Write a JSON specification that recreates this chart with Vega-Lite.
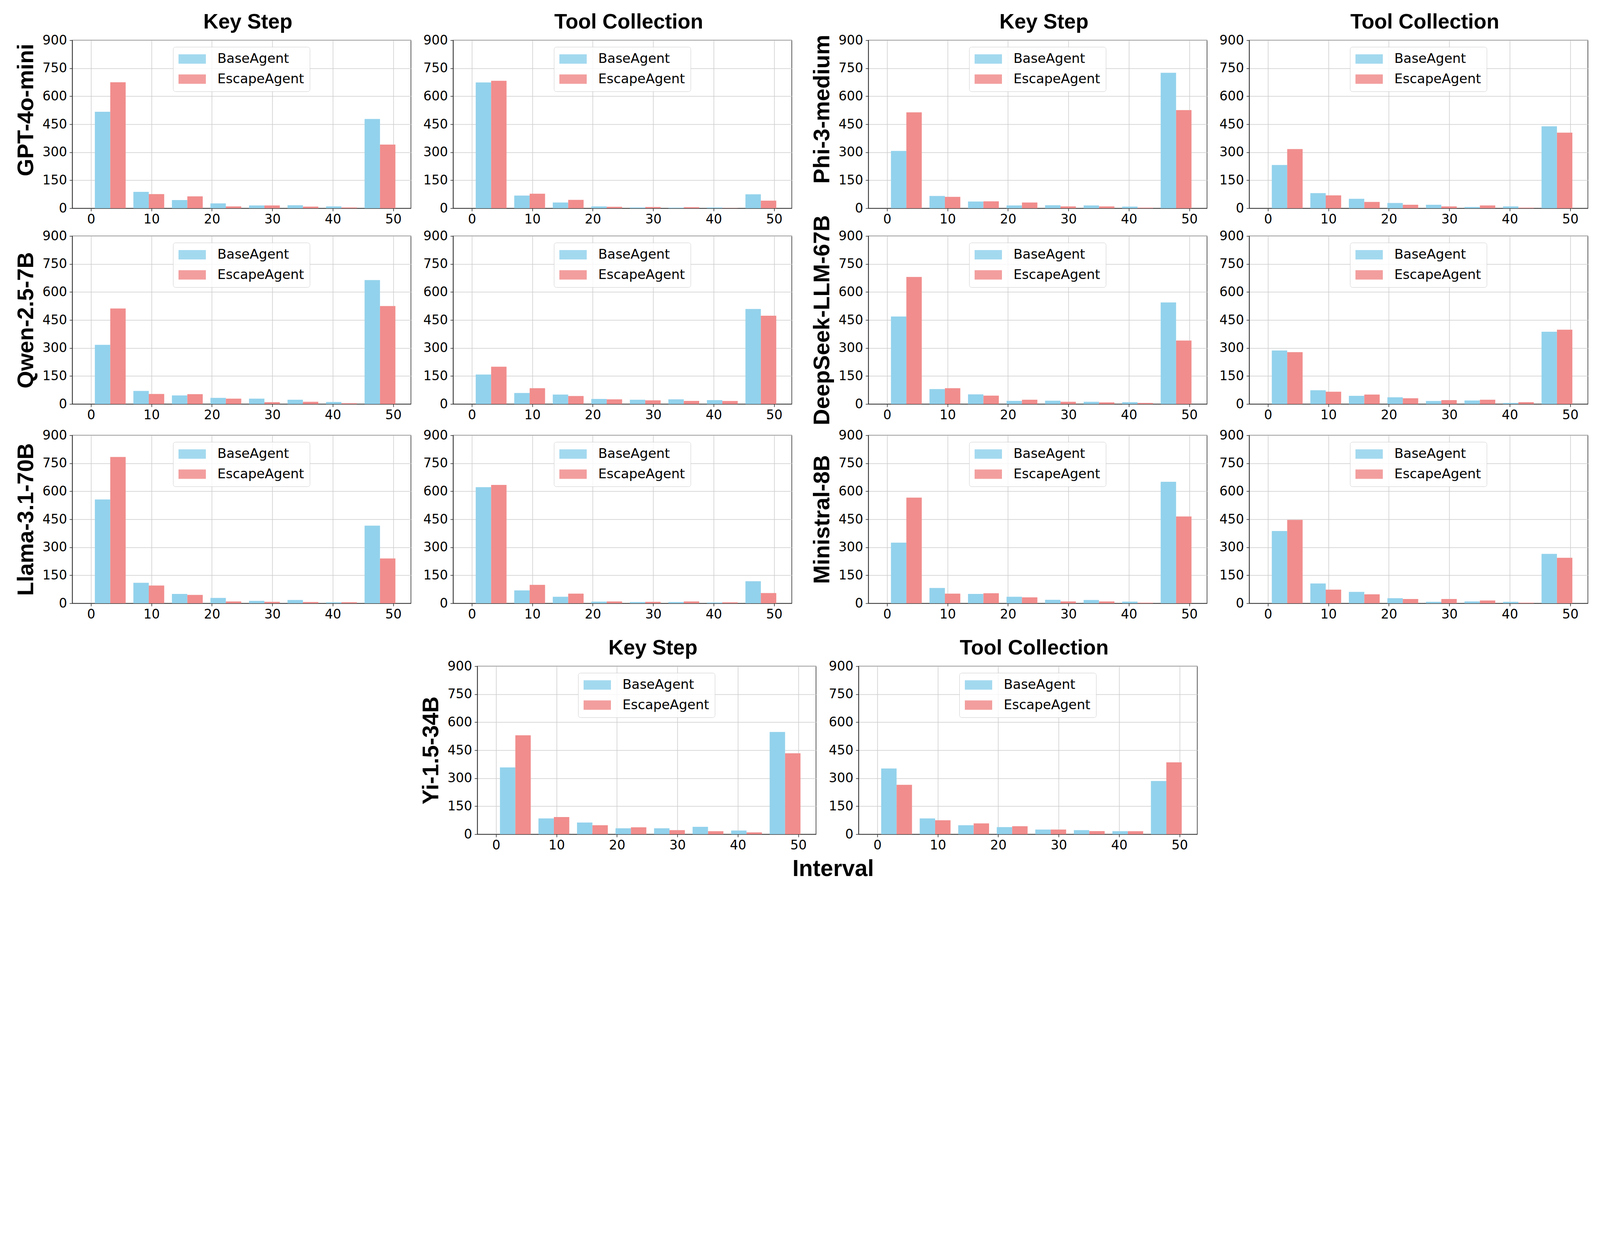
{
  "$schema": "https://vega.github.io/schema/vega-lite/v6.json",
  "background": "white",
  "padding": {"left": 37, "top": 28, "right": 0, "bottom": 0},
  "datasets": {
    "counts": [
      {"model": "GPT-4o-mini", "task": "Key Step", "bin": 0, "BaseAgent": 517, "EscapeAgent": 675},
      {"model": "GPT-4o-mini", "task": "Key Step", "bin": 1, "BaseAgent": 88, "EscapeAgent": 76},
      {"model": "GPT-4o-mini", "task": "Key Step", "bin": 2, "BaseAgent": 44, "EscapeAgent": 64},
      {"model": "GPT-4o-mini", "task": "Key Step", "bin": 3, "BaseAgent": 26, "EscapeAgent": 10},
      {"model": "GPT-4o-mini", "task": "Key Step", "bin": 4, "BaseAgent": 15, "EscapeAgent": 15},
      {"model": "GPT-4o-mini", "task": "Key Step", "bin": 5, "BaseAgent": 16, "EscapeAgent": 9},
      {"model": "GPT-4o-mini", "task": "Key Step", "bin": 6, "BaseAgent": 10, "EscapeAgent": 4},
      {"model": "GPT-4o-mini", "task": "Key Step", "bin": 7, "BaseAgent": 478, "EscapeAgent": 341},
      {"model": "GPT-4o-mini", "task": "Tool Collection", "bin": 0, "BaseAgent": 674, "EscapeAgent": 683},
      {"model": "GPT-4o-mini", "task": "Tool Collection", "bin": 1, "BaseAgent": 68, "EscapeAgent": 78},
      {"model": "GPT-4o-mini", "task": "Tool Collection", "bin": 2, "BaseAgent": 31, "EscapeAgent": 45},
      {"model": "GPT-4o-mini", "task": "Tool Collection", "bin": 3, "BaseAgent": 10, "EscapeAgent": 8},
      {"model": "GPT-4o-mini", "task": "Tool Collection", "bin": 4, "BaseAgent": 4, "EscapeAgent": 7},
      {"model": "GPT-4o-mini", "task": "Tool Collection", "bin": 5, "BaseAgent": 3, "EscapeAgent": 6},
      {"model": "GPT-4o-mini", "task": "Tool Collection", "bin": 6, "BaseAgent": 4, "EscapeAgent": 1},
      {"model": "GPT-4o-mini", "task": "Tool Collection", "bin": 7, "BaseAgent": 75, "EscapeAgent": 41},
      {"model": "Phi-3-medium", "task": "Key Step", "bin": 0, "BaseAgent": 307, "EscapeAgent": 514},
      {"model": "Phi-3-medium", "task": "Key Step", "bin": 1, "BaseAgent": 66, "EscapeAgent": 61},
      {"model": "Phi-3-medium", "task": "Key Step", "bin": 2, "BaseAgent": 36, "EscapeAgent": 37},
      {"model": "Phi-3-medium", "task": "Key Step", "bin": 3, "BaseAgent": 15, "EscapeAgent": 31},
      {"model": "Phi-3-medium", "task": "Key Step", "bin": 4, "BaseAgent": 16, "EscapeAgent": 10},
      {"model": "Phi-3-medium", "task": "Key Step", "bin": 5, "BaseAgent": 15, "EscapeAgent": 10},
      {"model": "Phi-3-medium", "task": "Key Step", "bin": 6, "BaseAgent": 9, "EscapeAgent": 3},
      {"model": "Phi-3-medium", "task": "Key Step", "bin": 7, "BaseAgent": 726, "EscapeAgent": 526},
      {"model": "Phi-3-medium", "task": "Tool Collection", "bin": 0, "BaseAgent": 232, "EscapeAgent": 317},
      {"model": "Phi-3-medium", "task": "Tool Collection", "bin": 1, "BaseAgent": 81, "EscapeAgent": 69},
      {"model": "Phi-3-medium", "task": "Tool Collection", "bin": 2, "BaseAgent": 51, "EscapeAgent": 34},
      {"model": "Phi-3-medium", "task": "Tool Collection", "bin": 3, "BaseAgent": 28, "EscapeAgent": 19},
      {"model": "Phi-3-medium", "task": "Tool Collection", "bin": 4, "BaseAgent": 19, "EscapeAgent": 10},
      {"model": "Phi-3-medium", "task": "Tool Collection", "bin": 5, "BaseAgent": 7, "EscapeAgent": 15},
      {"model": "Phi-3-medium", "task": "Tool Collection", "bin": 6, "BaseAgent": 10, "EscapeAgent": 3},
      {"model": "Phi-3-medium", "task": "Tool Collection", "bin": 7, "BaseAgent": 439, "EscapeAgent": 405},
      {"model": "Qwen-2.5-7B", "task": "Key Step", "bin": 0, "BaseAgent": 317, "EscapeAgent": 512},
      {"model": "Qwen-2.5-7B", "task": "Key Step", "bin": 1, "BaseAgent": 70, "EscapeAgent": 54},
      {"model": "Qwen-2.5-7B", "task": "Key Step", "bin": 2, "BaseAgent": 46, "EscapeAgent": 53},
      {"model": "Qwen-2.5-7B", "task": "Key Step", "bin": 3, "BaseAgent": 33, "EscapeAgent": 29},
      {"model": "Qwen-2.5-7B", "task": "Key Step", "bin": 4, "BaseAgent": 29, "EscapeAgent": 10},
      {"model": "Qwen-2.5-7B", "task": "Key Step", "bin": 5, "BaseAgent": 23, "EscapeAgent": 12},
      {"model": "Qwen-2.5-7B", "task": "Key Step", "bin": 6, "BaseAgent": 11, "EscapeAgent": 4},
      {"model": "Qwen-2.5-7B", "task": "Key Step", "bin": 7, "BaseAgent": 664, "EscapeAgent": 525},
      {"model": "Qwen-2.5-7B", "task": "Tool Collection", "bin": 0, "BaseAgent": 158, "EscapeAgent": 200},
      {"model": "Qwen-2.5-7B", "task": "Tool Collection", "bin": 1, "BaseAgent": 59, "EscapeAgent": 85},
      {"model": "Qwen-2.5-7B", "task": "Tool Collection", "bin": 2, "BaseAgent": 51, "EscapeAgent": 43},
      {"model": "Qwen-2.5-7B", "task": "Tool Collection", "bin": 3, "BaseAgent": 27, "EscapeAgent": 25},
      {"model": "Qwen-2.5-7B", "task": "Tool Collection", "bin": 4, "BaseAgent": 23, "EscapeAgent": 20},
      {"model": "Qwen-2.5-7B", "task": "Tool Collection", "bin": 5, "BaseAgent": 25, "EscapeAgent": 17},
      {"model": "Qwen-2.5-7B", "task": "Tool Collection", "bin": 6, "BaseAgent": 21, "EscapeAgent": 16},
      {"model": "Qwen-2.5-7B", "task": "Tool Collection", "bin": 7, "BaseAgent": 509, "EscapeAgent": 473},
      {"model": "DeepSeek-LLM-67B", "task": "Key Step", "bin": 0, "BaseAgent": 469, "EscapeAgent": 681},
      {"model": "DeepSeek-LLM-67B", "task": "Key Step", "bin": 1, "BaseAgent": 80, "EscapeAgent": 85},
      {"model": "DeepSeek-LLM-67B", "task": "Key Step", "bin": 2, "BaseAgent": 52, "EscapeAgent": 45},
      {"model": "DeepSeek-LLM-67B", "task": "Key Step", "bin": 3, "BaseAgent": 17, "EscapeAgent": 23},
      {"model": "DeepSeek-LLM-67B", "task": "Key Step", "bin": 4, "BaseAgent": 18, "EscapeAgent": 12},
      {"model": "DeepSeek-LLM-67B", "task": "Key Step", "bin": 5, "BaseAgent": 12, "EscapeAgent": 9},
      {"model": "DeepSeek-LLM-67B", "task": "Key Step", "bin": 6, "BaseAgent": 10, "EscapeAgent": 6},
      {"model": "DeepSeek-LLM-67B", "task": "Key Step", "bin": 7, "BaseAgent": 544, "EscapeAgent": 340},
      {"model": "DeepSeek-LLM-67B", "task": "Tool Collection", "bin": 0, "BaseAgent": 287, "EscapeAgent": 278},
      {"model": "DeepSeek-LLM-67B", "task": "Tool Collection", "bin": 1, "BaseAgent": 74, "EscapeAgent": 66},
      {"model": "DeepSeek-LLM-67B", "task": "Tool Collection", "bin": 2, "BaseAgent": 44, "EscapeAgent": 51},
      {"model": "DeepSeek-LLM-67B", "task": "Tool Collection", "bin": 3, "BaseAgent": 36, "EscapeAgent": 31},
      {"model": "DeepSeek-LLM-67B", "task": "Tool Collection", "bin": 4, "BaseAgent": 16, "EscapeAgent": 21},
      {"model": "DeepSeek-LLM-67B", "task": "Tool Collection", "bin": 5, "BaseAgent": 19, "EscapeAgent": 23},
      {"model": "DeepSeek-LLM-67B", "task": "Tool Collection", "bin": 6, "BaseAgent": 6, "EscapeAgent": 10},
      {"model": "DeepSeek-LLM-67B", "task": "Tool Collection", "bin": 7, "BaseAgent": 387, "EscapeAgent": 398},
      {"model": "Llama-3.1-70B", "task": "Key Step", "bin": 0, "BaseAgent": 556, "EscapeAgent": 784},
      {"model": "Llama-3.1-70B", "task": "Key Step", "bin": 1, "BaseAgent": 110, "EscapeAgent": 95},
      {"model": "Llama-3.1-70B", "task": "Key Step", "bin": 2, "BaseAgent": 50, "EscapeAgent": 45},
      {"model": "Llama-3.1-70B", "task": "Key Step", "bin": 3, "BaseAgent": 29, "EscapeAgent": 10},
      {"model": "Llama-3.1-70B", "task": "Key Step", "bin": 4, "BaseAgent": 13, "EscapeAgent": 8},
      {"model": "Llama-3.1-70B", "task": "Key Step", "bin": 5, "BaseAgent": 18, "EscapeAgent": 7},
      {"model": "Llama-3.1-70B", "task": "Key Step", "bin": 6, "BaseAgent": 5, "EscapeAgent": 6},
      {"model": "Llama-3.1-70B", "task": "Key Step", "bin": 7, "BaseAgent": 416, "EscapeAgent": 240},
      {"model": "Llama-3.1-70B", "task": "Tool Collection", "bin": 0, "BaseAgent": 622, "EscapeAgent": 634},
      {"model": "Llama-3.1-70B", "task": "Tool Collection", "bin": 1, "BaseAgent": 69, "EscapeAgent": 99},
      {"model": "Llama-3.1-70B", "task": "Tool Collection", "bin": 2, "BaseAgent": 35, "EscapeAgent": 52},
      {"model": "Llama-3.1-70B", "task": "Tool Collection", "bin": 3, "BaseAgent": 9, "EscapeAgent": 10},
      {"model": "Llama-3.1-70B", "task": "Tool Collection", "bin": 4, "BaseAgent": 7, "EscapeAgent": 8},
      {"model": "Llama-3.1-70B", "task": "Tool Collection", "bin": 5, "BaseAgent": 7, "EscapeAgent": 10},
      {"model": "Llama-3.1-70B", "task": "Tool Collection", "bin": 6, "BaseAgent": 4, "EscapeAgent": 5},
      {"model": "Llama-3.1-70B", "task": "Tool Collection", "bin": 7, "BaseAgent": 118, "EscapeAgent": 55},
      {"model": "Ministral-8B", "task": "Key Step", "bin": 0, "BaseAgent": 325, "EscapeAgent": 566},
      {"model": "Ministral-8B", "task": "Key Step", "bin": 1, "BaseAgent": 82, "EscapeAgent": 52},
      {"model": "Ministral-8B", "task": "Key Step", "bin": 2, "BaseAgent": 50, "EscapeAgent": 54},
      {"model": "Ministral-8B", "task": "Key Step", "bin": 3, "BaseAgent": 35, "EscapeAgent": 32},
      {"model": "Ministral-8B", "task": "Key Step", "bin": 4, "BaseAgent": 19, "EscapeAgent": 10},
      {"model": "Ministral-8B", "task": "Key Step", "bin": 5, "BaseAgent": 18, "EscapeAgent": 10},
      {"model": "Ministral-8B", "task": "Key Step", "bin": 6, "BaseAgent": 9, "EscapeAgent": 3},
      {"model": "Ministral-8B", "task": "Key Step", "bin": 7, "BaseAgent": 651, "EscapeAgent": 465},
      {"model": "Ministral-8B", "task": "Tool Collection", "bin": 0, "BaseAgent": 387, "EscapeAgent": 447},
      {"model": "Ministral-8B", "task": "Tool Collection", "bin": 1, "BaseAgent": 106, "EscapeAgent": 73},
      {"model": "Ministral-8B", "task": "Tool Collection", "bin": 2, "BaseAgent": 61, "EscapeAgent": 48},
      {"model": "Ministral-8B", "task": "Tool Collection", "bin": 3, "BaseAgent": 27, "EscapeAgent": 23},
      {"model": "Ministral-8B", "task": "Tool Collection", "bin": 4, "BaseAgent": 8, "EscapeAgent": 23},
      {"model": "Ministral-8B", "task": "Tool Collection", "bin": 5, "BaseAgent": 10, "EscapeAgent": 15},
      {"model": "Ministral-8B", "task": "Tool Collection", "bin": 6, "BaseAgent": 8, "EscapeAgent": 3},
      {"model": "Ministral-8B", "task": "Tool Collection", "bin": 7, "BaseAgent": 265, "EscapeAgent": 244},
      {"model": "Yi-1.5-34B", "task": "Key Step", "bin": 0, "BaseAgent": 358, "EscapeAgent": 530},
      {"model": "Yi-1.5-34B", "task": "Key Step", "bin": 1, "BaseAgent": 85, "EscapeAgent": 92},
      {"model": "Yi-1.5-34B", "task": "Key Step", "bin": 2, "BaseAgent": 63, "EscapeAgent": 48},
      {"model": "Yi-1.5-34B", "task": "Key Step", "bin": 3, "BaseAgent": 32, "EscapeAgent": 37},
      {"model": "Yi-1.5-34B", "task": "Key Step", "bin": 4, "BaseAgent": 32, "EscapeAgent": 22},
      {"model": "Yi-1.5-34B", "task": "Key Step", "bin": 5, "BaseAgent": 40, "EscapeAgent": 16},
      {"model": "Yi-1.5-34B", "task": "Key Step", "bin": 6, "BaseAgent": 20, "EscapeAgent": 10},
      {"model": "Yi-1.5-34B", "task": "Key Step", "bin": 7, "BaseAgent": 548, "EscapeAgent": 434},
      {"model": "Yi-1.5-34B", "task": "Tool Collection", "bin": 0, "BaseAgent": 352, "EscapeAgent": 265},
      {"model": "Yi-1.5-34B", "task": "Tool Collection", "bin": 1, "BaseAgent": 85, "EscapeAgent": 75},
      {"model": "Yi-1.5-34B", "task": "Tool Collection", "bin": 2, "BaseAgent": 48, "EscapeAgent": 58},
      {"model": "Yi-1.5-34B", "task": "Tool Collection", "bin": 3, "BaseAgent": 38, "EscapeAgent": 43},
      {"model": "Yi-1.5-34B", "task": "Tool Collection", "bin": 4, "BaseAgent": 25, "EscapeAgent": 25},
      {"model": "Yi-1.5-34B", "task": "Tool Collection", "bin": 5, "BaseAgent": 22, "EscapeAgent": 17},
      {"model": "Yi-1.5-34B", "task": "Tool Collection", "bin": 6, "BaseAgent": 16, "EscapeAgent": 16},
      {"model": "Yi-1.5-34B", "task": "Tool Collection", "bin": 7, "BaseAgent": 285, "EscapeAgent": 385}
    ]
  },
  "config": {
    "view": {"stroke": "#262626", "strokeWidth": 1.5},
    "axis": {"labelFont": "DejaVu Sans", "labelFontSize": 33, "labelColor": "#000000", "tickSize": 7.2, "tickWidth": 1.5, "tickColor": "#262626", "gridColor": "#cccccc", "gridWidth": 1.5, "domainColor": "#262626", "domainWidth": 1.5, "titleFont": "Liberation Sans", "titleFontWeight": "bold", "titleFontSize": 57.6, "titleColor": "#000000", "zindex": 1, "labelFlush": false, "labelOverlap": false},
    "legend": {"labelFont": "DejaVu Sans", "labelFontSize": 34, "labelColor": "#000000", "labelLimit": 600, "symbolType": "M-1,-0.34H1V0.34H-1Z", "symbolSize": 4900, "symbolStrokeWidth": 0, "symbolOpacity": 0.85, "clipHeight": 34, "labelOffset": 29.5, "rowPadding": 17.5, "padding": 14, "fillColor": "rgba(255,255,255,0.8)", "strokeColor": "#cccccc", "cornerRadius": 6},
    "title": {"font": "Liberation Sans", "fontWeight": "bold", "fontSize": 53.3, "color": "#000000"},
    "bar": {"stroke": null}
  },
  "resolve": {"scale": {"x": "independent", "y": "independent", "color": "independent"}, "axis": {"x": "independent", "y": "independent"}, "legend": {"color": "independent"}},
  "spacing": 39,
  "vconcat": [
    {
      "spacing": 8,
      "resolve": {"scale": {"x": "independent", "y": "independent", "color": "independent"}, "axis": {"x": "independent", "y": "independent"}, "legend": {"color": "independent"}},
      "vconcat": [
        {
          "spacing": -31,
          "resolve": {"scale": {"x": "independent", "y": "independent", "color": "independent"}, "axis": {"x": "independent", "y": "independent"}, "legend": {"color": "independent"}},
          "vconcat": [
            {
              "spacing": 47,
              "resolve": {"scale": {"x": "independent", "y": "independent", "color": "independent"}, "axis": {"x": "independent", "y": "independent"}, "legend": {"color": "independent"}},
              "hconcat": [
                {
                  "bounds": "flush", "spacing": 108,
                  "resolve": {"scale": {"x": "independent", "y": "independent", "color": "independent"}, "axis": {"x": "independent", "y": "independent"}, "legend": {"color": "independent"}},
                  "hconcat": [
                    {"width": 867, "height": 430,
                     "title": {"text": "Key Step", "anchor": "middle", "frame": "group", "baseline": "alphabetic", "offset": -39, "dx": 16},
                     "layer": [
                      {"data": {"name": "counts"},
                       "transform": [{"filter": {"and": [{"field": "model", "equal": "GPT-4o-mini"}, {"field": "task", "equal": "Key Step"}]}}, {"fold": ["BaseAgent", "EscapeAgent"], "as": ["agent", "count"]}],
                       "mark": {"type": "bar"},
                       "encoding": {
                         "x": {"field": "bin", "type": "ordinal", "scale": {"type": "band", "domain": [0,1,2,3,4,5,6,7], "paddingInner": 0, "paddingOuter": 0.3945, "align": 0.616}, "axis": null},
                         "xOffset": {"field": "agent", "type": "nominal", "scale": {"domain": ["BaseAgent", "EscapeAgent"], "paddingInner": 0, "paddingOuter": 0.25}},
                         "y": {"field": "count", "type": "quantitative", "scale": {"domain": [0, 900], "nice": false}, "axis": {"values": [0,150,300,450,600,750,900], "grid": true, "domain": true, "labelPadding": 6.5, "title": "GPT-4o-mini", "titlePadding": 24, "titleBaseline": "alphabetic", "titleY": 178}},
                         "color": {"field": "agent", "type": "nominal", "scale": {"domain": ["BaseAgent", "EscapeAgent"], "range": ["#93d2ec", "#f18d8d"]}, "legend": {"orient": "none", "legendX": 258, "legendY": 17, "title": null}}
                       }},
                      {"data": {"values": [{}]}, "mark": {"type": "rule", "opacity": 0},
                       "encoding": {"x": {"datum": 0, "type": "quantitative", "scale": {"domain": [-3.1, 52.93], "nice": false, "zero": false}, "axis": {"values": [0,10,20,30,40,50], "grid": true, "domain": true, "title": null, "labelPadding": 5.2, "format": "d"}}}}
                     ],
                     "resolve": {"scale": {"x": "independent"}, "axis": {"x": "independent"}}},
                    {"width": 867, "height": 430,
                     "title": {"text": "Tool Collection", "anchor": "middle", "frame": "group", "baseline": "alphabetic", "offset": -39, "dx": 16},
                     "layer": [
                      {"data": {"name": "counts"},
                       "transform": [{"filter": {"and": [{"field": "model", "equal": "GPT-4o-mini"}, {"field": "task", "equal": "Tool Collection"}]}}, {"fold": ["BaseAgent", "EscapeAgent"], "as": ["agent", "count"]}],
                       "mark": {"type": "bar"},
                       "encoding": {
                         "x": {"field": "bin", "type": "ordinal", "scale": {"type": "band", "domain": [0,1,2,3,4,5,6,7], "paddingInner": 0, "paddingOuter": 0.3945, "align": 0.616}, "axis": null},
                         "xOffset": {"field": "agent", "type": "nominal", "scale": {"domain": ["BaseAgent", "EscapeAgent"], "paddingInner": 0, "paddingOuter": 0.25}},
                         "y": {"field": "count", "type": "quantitative", "scale": {"domain": [0, 900], "nice": false}, "axis": {"values": [0,150,300,450,600,750,900], "grid": true, "domain": true, "labelPadding": 6.5, "title": null}},
                         "color": {"field": "agent", "type": "nominal", "scale": {"domain": ["BaseAgent", "EscapeAgent"], "range": ["#93d2ec", "#f18d8d"]}, "legend": {"orient": "none", "legendX": 258, "legendY": 17, "title": null}}
                       }},
                      {"data": {"values": [{}]}, "mark": {"type": "rule", "opacity": 0},
                       "encoding": {"x": {"datum": 0, "type": "quantitative", "scale": {"domain": [-3.1, 52.93], "nice": false, "zero": false}, "axis": {"values": [0,10,20,30,40,50], "grid": true, "domain": true, "title": null, "labelPadding": 5.2, "format": "d"}}}}
                     ],
                     "resolve": {"scale": {"x": "independent"}, "axis": {"x": "independent"}}}
                  ]
                },
                {
                  "bounds": "flush", "spacing": 108,
                  "resolve": {"scale": {"x": "independent", "y": "independent", "color": "independent"}, "axis": {"x": "independent", "y": "independent"}, "legend": {"color": "independent"}},
                  "hconcat": [
                    {"width": 867, "height": 430,
                     "title": {"text": "Key Step", "anchor": "middle", "frame": "group", "baseline": "alphabetic", "offset": -39, "dx": 16},
                     "layer": [
                      {"data": {"name": "counts"},
                       "transform": [{"filter": {"and": [{"field": "model", "equal": "Phi-3-medium"}, {"field": "task", "equal": "Key Step"}]}}, {"fold": ["BaseAgent", "EscapeAgent"], "as": ["agent", "count"]}],
                       "mark": {"type": "bar"},
                       "encoding": {
                         "x": {"field": "bin", "type": "ordinal", "scale": {"type": "band", "domain": [0,1,2,3,4,5,6,7], "paddingInner": 0, "paddingOuter": 0.3945, "align": 0.616}, "axis": null},
                         "xOffset": {"field": "agent", "type": "nominal", "scale": {"domain": ["BaseAgent", "EscapeAgent"], "paddingInner": 0, "paddingOuter": 0.25}},
                         "y": {"field": "count", "type": "quantitative", "scale": {"domain": [0, 900], "nice": false}, "axis": {"values": [0,150,300,450,600,750,900], "grid": true, "domain": true, "labelPadding": 6.5, "title": "Phi-3-medium", "titlePadding": 24, "titleBaseline": "alphabetic", "titleY": 176}},
                         "color": {"field": "agent", "type": "nominal", "scale": {"domain": ["BaseAgent", "EscapeAgent"], "range": ["#93d2ec", "#f18d8d"]}, "legend": {"orient": "none", "legendX": 258, "legendY": 17, "title": null}}
                       }},
                      {"data": {"values": [{}]}, "mark": {"type": "rule", "opacity": 0},
                       "encoding": {"x": {"datum": 0, "type": "quantitative", "scale": {"domain": [-3.1, 52.93], "nice": false, "zero": false}, "axis": {"values": [0,10,20,30,40,50], "grid": true, "domain": true, "title": null, "labelPadding": 5.2, "format": "d"}}}}
                     ],
                     "resolve": {"scale": {"x": "independent"}, "axis": {"x": "independent"}}},
                    {"width": 867, "height": 430,
                     "title": {"text": "Tool Collection", "anchor": "middle", "frame": "group", "baseline": "alphabetic", "offset": -39, "dx": 16},
                     "layer": [
                      {"data": {"name": "counts"},
                       "transform": [{"filter": {"and": [{"field": "model", "equal": "Phi-3-medium"}, {"field": "task", "equal": "Tool Collection"}]}}, {"fold": ["BaseAgent", "EscapeAgent"], "as": ["agent", "count"]}],
                       "mark": {"type": "bar"},
                       "encoding": {
                         "x": {"field": "bin", "type": "ordinal", "scale": {"type": "band", "domain": [0,1,2,3,4,5,6,7], "paddingInner": 0, "paddingOuter": 0.3945, "align": 0.616}, "axis": null},
                         "xOffset": {"field": "agent", "type": "nominal", "scale": {"domain": ["BaseAgent", "EscapeAgent"], "paddingInner": 0, "paddingOuter": 0.25}},
                         "y": {"field": "count", "type": "quantitative", "scale": {"domain": [0, 900], "nice": false}, "axis": {"values": [0,150,300,450,600,750,900], "grid": true, "domain": true, "labelPadding": 6.5, "title": null}},
                         "color": {"field": "agent", "type": "nominal", "scale": {"domain": ["BaseAgent", "EscapeAgent"], "range": ["#93d2ec", "#f18d8d"]}, "legend": {"orient": "none", "legendX": 258, "legendY": 17, "title": null}}
                       }},
                      {"data": {"values": [{}]}, "mark": {"type": "rule", "opacity": 0},
                       "encoding": {"x": {"datum": 0, "type": "quantitative", "scale": {"domain": [-3.1, 52.93], "nice": false, "zero": false}, "axis": {"values": [0,10,20,30,40,50], "grid": true, "domain": true, "title": null, "labelPadding": 5.2, "format": "d"}}}}
                     ],
                     "resolve": {"scale": {"x": "independent"}, "axis": {"x": "independent"}}}
                  ]
                }
              ]
            },
            {
              "spacing": 47,
              "resolve": {"scale": {"x": "independent", "y": "independent", "color": "independent"}, "axis": {"x": "independent", "y": "independent"}, "legend": {"color": "independent"}},
              "hconcat": [
                {
                  "bounds": "flush", "spacing": 108,
                  "resolve": {"scale": {"x": "independent", "y": "independent", "color": "independent"}, "axis": {"x": "independent", "y": "independent"}, "legend": {"color": "independent"}},
                  "hconcat": [
                    {"width": 867, "height": 430,
                     "layer": [
                      {"data": {"name": "counts"},
                       "transform": [{"filter": {"and": [{"field": "model", "equal": "Qwen-2.5-7B"}, {"field": "task", "equal": "Key Step"}]}}, {"fold": ["BaseAgent", "EscapeAgent"], "as": ["agent", "count"]}],
                       "mark": {"type": "bar"},
                       "encoding": {
                         "x": {"field": "bin", "type": "ordinal", "scale": {"type": "band", "domain": [0,1,2,3,4,5,6,7], "paddingInner": 0, "paddingOuter": 0.3945, "align": 0.616}, "axis": null},
                         "xOffset": {"field": "agent", "type": "nominal", "scale": {"domain": ["BaseAgent", "EscapeAgent"], "paddingInner": 0, "paddingOuter": 0.25}},
                         "y": {"field": "count", "type": "quantitative", "scale": {"domain": [0, 900], "nice": false}, "axis": {"values": [0,150,300,450,600,750,900], "grid": true, "domain": true, "labelPadding": 6.5, "title": "Qwen-2.5-7B", "titlePadding": 24, "titleBaseline": "alphabetic"}},
                         "color": {"field": "agent", "type": "nominal", "scale": {"domain": ["BaseAgent", "EscapeAgent"], "range": ["#93d2ec", "#f18d8d"]}, "legend": {"orient": "none", "legendX": 258, "legendY": 17, "title": null}}
                       }},
                      {"data": {"values": [{}]}, "mark": {"type": "rule", "opacity": 0},
                       "encoding": {"x": {"datum": 0, "type": "quantitative", "scale": {"domain": [-3.1, 52.93], "nice": false, "zero": false}, "axis": {"values": [0,10,20,30,40,50], "grid": true, "domain": true, "title": null, "labelPadding": 5.2, "format": "d"}}}}
                     ],
                     "resolve": {"scale": {"x": "independent"}, "axis": {"x": "independent"}}},
                    {"width": 867, "height": 430,
                     "layer": [
                      {"data": {"name": "counts"},
                       "transform": [{"filter": {"and": [{"field": "model", "equal": "Qwen-2.5-7B"}, {"field": "task", "equal": "Tool Collection"}]}}, {"fold": ["BaseAgent", "EscapeAgent"], "as": ["agent", "count"]}],
                       "mark": {"type": "bar"},
                       "encoding": {
                         "x": {"field": "bin", "type": "ordinal", "scale": {"type": "band", "domain": [0,1,2,3,4,5,6,7], "paddingInner": 0, "paddingOuter": 0.3945, "align": 0.616}, "axis": null},
                         "xOffset": {"field": "agent", "type": "nominal", "scale": {"domain": ["BaseAgent", "EscapeAgent"], "paddingInner": 0, "paddingOuter": 0.25}},
                         "y": {"field": "count", "type": "quantitative", "scale": {"domain": [0, 900], "nice": false}, "axis": {"values": [0,150,300,450,600,750,900], "grid": true, "domain": true, "labelPadding": 6.5, "title": null}},
                         "color": {"field": "agent", "type": "nominal", "scale": {"domain": ["BaseAgent", "EscapeAgent"], "range": ["#93d2ec", "#f18d8d"]}, "legend": {"orient": "none", "legendX": 258, "legendY": 17, "title": null}}
                       }},
                      {"data": {"values": [{}]}, "mark": {"type": "rule", "opacity": 0},
                       "encoding": {"x": {"datum": 0, "type": "quantitative", "scale": {"domain": [-3.1, 52.93], "nice": false, "zero": false}, "axis": {"values": [0,10,20,30,40,50], "grid": true, "domain": true, "title": null, "labelPadding": 5.2, "format": "d"}}}}
                     ],
                     "resolve": {"scale": {"x": "independent"}, "axis": {"x": "independent"}}}
                  ]
                },
                {
                  "bounds": "flush", "spacing": 108,
                  "resolve": {"scale": {"x": "independent", "y": "independent", "color": "independent"}, "axis": {"x": "independent", "y": "independent"}, "legend": {"color": "independent"}},
                  "hconcat": [
                    {"width": 867, "height": 430,
                     "layer": [
                      {"data": {"name": "counts"},
                       "transform": [{"filter": {"and": [{"field": "model", "equal": "DeepSeek-LLM-67B"}, {"field": "task", "equal": "Key Step"}]}}, {"fold": ["BaseAgent", "EscapeAgent"], "as": ["agent", "count"]}],
                       "mark": {"type": "bar"},
                       "encoding": {
                         "x": {"field": "bin", "type": "ordinal", "scale": {"type": "band", "domain": [0,1,2,3,4,5,6,7], "paddingInner": 0, "paddingOuter": 0.3945, "align": 0.616}, "axis": null},
                         "xOffset": {"field": "agent", "type": "nominal", "scale": {"domain": ["BaseAgent", "EscapeAgent"], "paddingInner": 0, "paddingOuter": 0.25}},
                         "y": {"field": "count", "type": "quantitative", "scale": {"domain": [0, 900], "nice": false}, "axis": {"values": [0,150,300,450,600,750,900], "grid": true, "domain": true, "labelPadding": 6.5, "title": "DeepSeek-LLM-67B", "titlePadding": 24, "titleBaseline": "alphabetic"}},
                         "color": {"field": "agent", "type": "nominal", "scale": {"domain": ["BaseAgent", "EscapeAgent"], "range": ["#93d2ec", "#f18d8d"]}, "legend": {"orient": "none", "legendX": 258, "legendY": 17, "title": null}}
                       }},
                      {"data": {"values": [{}]}, "mark": {"type": "rule", "opacity": 0},
                       "encoding": {"x": {"datum": 0, "type": "quantitative", "scale": {"domain": [-3.1, 52.93], "nice": false, "zero": false}, "axis": {"values": [0,10,20,30,40,50], "grid": true, "domain": true, "title": null, "labelPadding": 5.2, "format": "d"}}}}
                     ],
                     "resolve": {"scale": {"x": "independent"}, "axis": {"x": "independent"}}},
                    {"width": 867, "height": 430,
                     "layer": [
                      {"data": {"name": "counts"},
                       "transform": [{"filter": {"and": [{"field": "model", "equal": "DeepSeek-LLM-67B"}, {"field": "task", "equal": "Tool Collection"}]}}, {"fold": ["BaseAgent", "EscapeAgent"], "as": ["agent", "count"]}],
                       "mark": {"type": "bar"},
                       "encoding": {
                         "x": {"field": "bin", "type": "ordinal", "scale": {"type": "band", "domain": [0,1,2,3,4,5,6,7], "paddingInner": 0, "paddingOuter": 0.3945, "align": 0.616}, "axis": null},
                         "xOffset": {"field": "agent", "type": "nominal", "scale": {"domain": ["BaseAgent", "EscapeAgent"], "paddingInner": 0, "paddingOuter": 0.25}},
                         "y": {"field": "count", "type": "quantitative", "scale": {"domain": [0, 900], "nice": false}, "axis": {"values": [0,150,300,450,600,750,900], "grid": true, "domain": true, "labelPadding": 6.5, "title": null}},
                         "color": {"field": "agent", "type": "nominal", "scale": {"domain": ["BaseAgent", "EscapeAgent"], "range": ["#93d2ec", "#f18d8d"]}, "legend": {"orient": "none", "legendX": 258, "legendY": 17, "title": null}}
                       }},
                      {"data": {"values": [{}]}, "mark": {"type": "rule", "opacity": 0},
                       "encoding": {"x": {"datum": 0, "type": "quantitative", "scale": {"domain": [-3.1, 52.93], "nice": false, "zero": false}, "axis": {"values": [0,10,20,30,40,50], "grid": true, "domain": true, "title": null, "labelPadding": 5.2, "format": "d"}}}}
                     ],
                     "resolve": {"scale": {"x": "independent"}, "axis": {"x": "independent"}}}
                  ]
                }
              ]
            }
          ]
        },
        {
          "spacing": 47,
          "resolve": {"scale": {"x": "independent", "y": "independent", "color": "independent"}, "axis": {"x": "independent", "y": "independent"}, "legend": {"color": "independent"}},
          "hconcat": [
            {
              "bounds": "flush", "spacing": 108,
              "resolve": {"scale": {"x": "independent", "y": "independent", "color": "independent"}, "axis": {"x": "independent", "y": "independent"}, "legend": {"color": "independent"}},
              "hconcat": [
                {"width": 867, "height": 430,
                 "layer": [
                  {"data": {"name": "counts"},
                   "transform": [{"filter": {"and": [{"field": "model", "equal": "Llama-3.1-70B"}, {"field": "task", "equal": "Key Step"}]}}, {"fold": ["BaseAgent", "EscapeAgent"], "as": ["agent", "count"]}],
                   "mark": {"type": "bar"},
                   "encoding": {
                     "x": {"field": "bin", "type": "ordinal", "scale": {"type": "band", "domain": [0,1,2,3,4,5,6,7], "paddingInner": 0, "paddingOuter": 0.3945, "align": 0.616}, "axis": null},
                     "xOffset": {"field": "agent", "type": "nominal", "scale": {"domain": ["BaseAgent", "EscapeAgent"], "paddingInner": 0, "paddingOuter": 0.25}},
                     "y": {"field": "count", "type": "quantitative", "scale": {"domain": [0, 900], "nice": false}, "axis": {"values": [0,150,300,450,600,750,900], "grid": true, "domain": true, "labelPadding": 6.5, "title": "Llama-3.1-70B", "titlePadding": 24, "titleBaseline": "alphabetic"}},
                     "color": {"field": "agent", "type": "nominal", "scale": {"domain": ["BaseAgent", "EscapeAgent"], "range": ["#93d2ec", "#f18d8d"]}, "legend": {"orient": "none", "legendX": 258, "legendY": 17, "title": null}}
                   }},
                  {"data": {"values": [{}]}, "mark": {"type": "rule", "opacity": 0},
                   "encoding": {"x": {"datum": 0, "type": "quantitative", "scale": {"domain": [-3.1, 52.93], "nice": false, "zero": false}, "axis": {"values": [0,10,20,30,40,50], "grid": true, "domain": true, "title": null, "labelPadding": 5.2, "format": "d"}}}}
                 ],
                 "resolve": {"scale": {"x": "independent"}, "axis": {"x": "independent"}}},
                {"width": 867, "height": 430,
                 "layer": [
                  {"data": {"name": "counts"},
                   "transform": [{"filter": {"and": [{"field": "model", "equal": "Llama-3.1-70B"}, {"field": "task", "equal": "Tool Collection"}]}}, {"fold": ["BaseAgent", "EscapeAgent"], "as": ["agent", "count"]}],
                   "mark": {"type": "bar"},
                   "encoding": {
                     "x": {"field": "bin", "type": "ordinal", "scale": {"type": "band", "domain": [0,1,2,3,4,5,6,7], "paddingInner": 0, "paddingOuter": 0.3945, "align": 0.616}, "axis": null},
                     "xOffset": {"field": "agent", "type": "nominal", "scale": {"domain": ["BaseAgent", "EscapeAgent"], "paddingInner": 0, "paddingOuter": 0.25}},
                     "y": {"field": "count", "type": "quantitative", "scale": {"domain": [0, 900], "nice": false}, "axis": {"values": [0,150,300,450,600,750,900], "grid": true, "domain": true, "labelPadding": 6.5, "title": null}},
                     "color": {"field": "agent", "type": "nominal", "scale": {"domain": ["BaseAgent", "EscapeAgent"], "range": ["#93d2ec", "#f18d8d"]}, "legend": {"orient": "none", "legendX": 258, "legendY": 17, "title": null}}
                   }},
                  {"data": {"values": [{}]}, "mark": {"type": "rule", "opacity": 0},
                   "encoding": {"x": {"datum": 0, "type": "quantitative", "scale": {"domain": [-3.1, 52.93], "nice": false, "zero": false}, "axis": {"values": [0,10,20,30,40,50], "grid": true, "domain": true, "title": null, "labelPadding": 5.2, "format": "d"}}}}
                 ],
                 "resolve": {"scale": {"x": "independent"}, "axis": {"x": "independent"}}}
              ]
            },
            {
              "bounds": "flush", "spacing": 108,
              "resolve": {"scale": {"x": "independent", "y": "independent", "color": "independent"}, "axis": {"x": "independent", "y": "independent"}, "legend": {"color": "independent"}},
              "hconcat": [
                {"width": 867, "height": 430,
                 "layer": [
                  {"data": {"name": "counts"},
                   "transform": [{"filter": {"and": [{"field": "model", "equal": "Ministral-8B"}, {"field": "task", "equal": "Key Step"}]}}, {"fold": ["BaseAgent", "EscapeAgent"], "as": ["agent", "count"]}],
                   "mark": {"type": "bar"},
                   "encoding": {
                     "x": {"field": "bin", "type": "ordinal", "scale": {"type": "band", "domain": [0,1,2,3,4,5,6,7], "paddingInner": 0, "paddingOuter": 0.3945, "align": 0.616}, "axis": null},
                     "xOffset": {"field": "agent", "type": "nominal", "scale": {"domain": ["BaseAgent", "EscapeAgent"], "paddingInner": 0, "paddingOuter": 0.25}},
                     "y": {"field": "count", "type": "quantitative", "scale": {"domain": [0, 900], "nice": false}, "axis": {"values": [0,150,300,450,600,750,900], "grid": true, "domain": true, "labelPadding": 6.5, "title": "Ministral-8B", "titlePadding": 24, "titleBaseline": "alphabetic"}},
                     "color": {"field": "agent", "type": "nominal", "scale": {"domain": ["BaseAgent", "EscapeAgent"], "range": ["#93d2ec", "#f18d8d"]}, "legend": {"orient": "none", "legendX": 258, "legendY": 17, "title": null}}
                   }},
                  {"data": {"values": [{}]}, "mark": {"type": "rule", "opacity": 0},
                   "encoding": {"x": {"datum": 0, "type": "quantitative", "scale": {"domain": [-3.1, 52.93], "nice": false, "zero": false}, "axis": {"values": [0,10,20,30,40,50], "grid": true, "domain": true, "title": null, "labelPadding": 5.2, "format": "d"}}}}
                 ],
                 "resolve": {"scale": {"x": "independent"}, "axis": {"x": "independent"}}},
                {"width": 867, "height": 430,
                 "layer": [
                  {"data": {"name": "counts"},
                   "transform": [{"filter": {"and": [{"field": "model", "equal": "Ministral-8B"}, {"field": "task", "equal": "Tool Collection"}]}}, {"fold": ["BaseAgent", "EscapeAgent"], "as": ["agent", "count"]}],
                   "mark": {"type": "bar"},
                   "encoding": {
                     "x": {"field": "bin", "type": "ordinal", "scale": {"type": "band", "domain": [0,1,2,3,4,5,6,7], "paddingInner": 0, "paddingOuter": 0.3945, "align": 0.616}, "axis": null},
                     "xOffset": {"field": "agent", "type": "nominal", "scale": {"domain": ["BaseAgent", "EscapeAgent"], "paddingInner": 0, "paddingOuter": 0.25}},
                     "y": {"field": "count", "type": "quantitative", "scale": {"domain": [0, 900], "nice": false}, "axis": {"values": [0,150,300,450,600,750,900], "grid": true, "domain": true, "labelPadding": 6.5, "title": null}},
                     "color": {"field": "agent", "type": "nominal", "scale": {"domain": ["BaseAgent", "EscapeAgent"], "range": ["#93d2ec", "#f18d8d"]}, "legend": {"orient": "none", "legendX": 258, "legendY": 17, "title": null}}
                   }},
                  {"data": {"values": [{}]}, "mark": {"type": "rule", "opacity": 0},
                   "encoding": {"x": {"datum": 0, "type": "quantitative", "scale": {"domain": [-3.1, 52.93], "nice": false, "zero": false}, "axis": {"values": [0,10,20,30,40,50], "grid": true, "domain": true, "title": null, "labelPadding": 5.2, "format": "d"}}}}
                 ],
                 "resolve": {"scale": {"x": "independent"}, "axis": {"x": "independent"}}}
              ]
            }
          ]
        }
      ]
    },
    {
      "spacing": 0,
      "resolve": {"scale": {"x": "independent", "y": "independent", "color": "independent"}, "axis": {"x": "independent", "y": "independent"}, "legend": {"color": "independent"}},
      "hconcat": [
        {"width": 889, "height": 1, "view": {"stroke": null}, "data": {"values": [{}]}, "mark": {"type": "point", "opacity": 0}, "encoding": {}},
        {
          "bounds": "flush", "spacing": 109,
          "title": {"text": "Interval", "orient": "bottom", "anchor": "middle", "frame": "group", "offset": 15, "dx": 911, "fontSize": 58.6},
          "resolve": {"scale": {"x": "independent", "y": "independent", "color": "independent"}, "axis": {"x": "independent", "y": "independent"}, "legend": {"color": "independent"}},
          "hconcat": [
            {"width": 867, "height": 430,
             "title": {"text": "Key Step", "anchor": "middle", "frame": "group", "baseline": "alphabetic", "offset": -39, "dx": 16},
             "layer": [
              {"data": {"name": "counts"},
               "transform": [{"filter": {"and": [{"field": "model", "equal": "Yi-1.5-34B"}, {"field": "task", "equal": "Key Step"}]}}, {"fold": ["BaseAgent", "EscapeAgent"], "as": ["agent", "count"]}],
               "mark": {"type": "bar"},
               "encoding": {
                 "x": {"field": "bin", "type": "ordinal", "scale": {"type": "band", "domain": [0,1,2,3,4,5,6,7], "paddingInner": 0, "paddingOuter": 0.3945, "align": 0.616}, "axis": null},
                 "xOffset": {"field": "agent", "type": "nominal", "scale": {"domain": ["BaseAgent", "EscapeAgent"], "paddingInner": 0, "paddingOuter": 0.25}},
                 "y": {"field": "count", "type": "quantitative", "scale": {"domain": [0, 900], "nice": false}, "axis": {"values": [0,150,300,450,600,750,900], "grid": true, "domain": true, "labelPadding": 6.5, "title": "Yi-1.5-34B", "titlePadding": 24, "titleBaseline": "alphabetic"}},
                 "color": {"field": "agent", "type": "nominal", "scale": {"domain": ["BaseAgent", "EscapeAgent"], "range": ["#93d2ec", "#f18d8d"]}, "legend": {"orient": "none", "legendX": 258, "legendY": 17, "title": null}}
               }},
              {"data": {"values": [{}]}, "mark": {"type": "rule", "opacity": 0},
               "encoding": {"x": {"datum": 0, "type": "quantitative", "scale": {"domain": [-3.1, 52.93], "nice": false, "zero": false}, "axis": {"values": [0,10,20,30,40,50], "grid": true, "domain": true, "title": null, "labelPadding": 5.2, "format": "d"}}}}
             ],
             "resolve": {"scale": {"x": "independent"}, "axis": {"x": "independent"}}},
            {"width": 867, "height": 430,
             "title": {"text": "Tool Collection", "anchor": "middle", "frame": "group", "baseline": "alphabetic", "offset": -39, "dx": 16},
             "layer": [
              {"data": {"name": "counts"},
               "transform": [{"filter": {"and": [{"field": "model", "equal": "Yi-1.5-34B"}, {"field": "task", "equal": "Tool Collection"}]}}, {"fold": ["BaseAgent", "EscapeAgent"], "as": ["agent", "count"]}],
               "mark": {"type": "bar"},
               "encoding": {
                 "x": {"field": "bin", "type": "ordinal", "scale": {"type": "band", "domain": [0,1,2,3,4,5,6,7], "paddingInner": 0, "paddingOuter": 0.3945, "align": 0.616}, "axis": null},
                 "xOffset": {"field": "agent", "type": "nominal", "scale": {"domain": ["BaseAgent", "EscapeAgent"], "paddingInner": 0, "paddingOuter": 0.25}},
                 "y": {"field": "count", "type": "quantitative", "scale": {"domain": [0, 900], "nice": false}, "axis": {"values": [0,150,300,450,600,750,900], "grid": true, "domain": true, "labelPadding": 6.5, "title": null}},
                 "color": {"field": "agent", "type": "nominal", "scale": {"domain": ["BaseAgent", "EscapeAgent"], "range": ["#93d2ec", "#f18d8d"]}, "legend": {"orient": "none", "legendX": 258, "legendY": 17, "title": null}}
               }},
              {"data": {"values": [{}]}, "mark": {"type": "rule", "opacity": 0},
               "encoding": {"x": {"datum": 0, "type": "quantitative", "scale": {"domain": [-3.1, 52.93], "nice": false, "zero": false}, "axis": {"values": [0,10,20,30,40,50], "grid": true, "domain": true, "title": null, "labelPadding": 5.2, "format": "d"}}}}
             ],
             "resolve": {"scale": {"x": "independent"}, "axis": {"x": "independent"}}}
          ]
        }
      ]
    }
  ]
}
